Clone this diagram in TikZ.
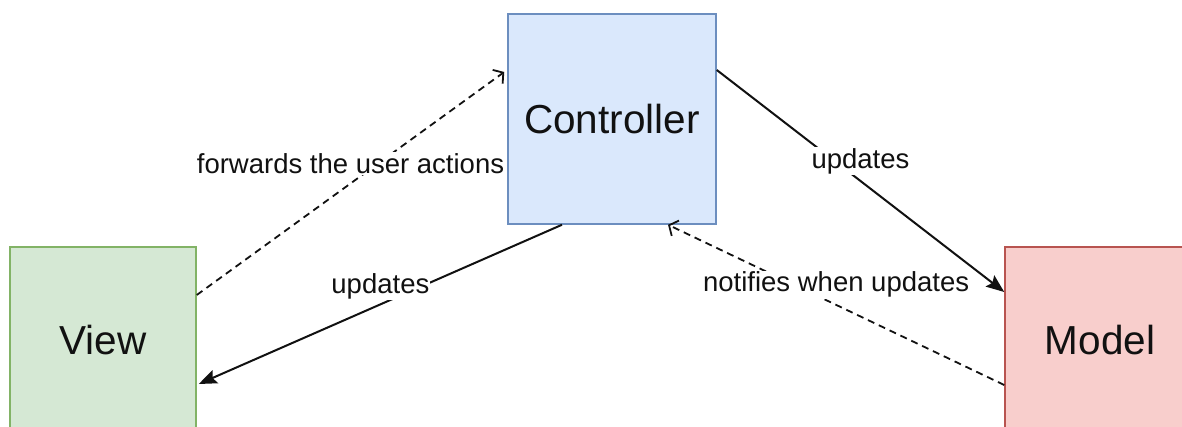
\documentclass[tikz,border=0pt]{standalone}
\usepackage{fontspec}
\setmainfont{Liberation Sans}
\usepackage{tikz}
\usetikzlibrary{arrows.meta,calc,positioning}

\definecolor{ctrlfill}{HTML}{DAE8FC}
\definecolor{ctrldraw}{HTML}{6C8EBF}
\definecolor{viewfill}{HTML}{D5E8D4}
\definecolor{viewdraw}{HTML}{82B366}
\definecolor{modelfill}{HTML}{F8CECC}
\definecolor{modeldraw}{HTML}{B85450}
\definecolor{ink}{HTML}{111111}

\begin{document}
\begin{tikzpicture}[x=1pt,y=-1pt,
  box/.style={draw,line width=1.5pt,minimum width=186pt,minimum height=186pt,
    text=ink,font=\fontsize{40.5}{48}\selectfont},
  lbl/.style={fill=white,inner sep=1pt,text=ink,yshift=20pt,
    font=\fontsize{27.5}{32}\selectfont},
  upd/.style={line width=2pt,draw=ink,-{Stealth[length=18pt,width=14pt,inset=3pt]}},
  ntf/.style={line width=1.8pt,draw=ink,dash pattern=on 7pt off 5pt,
    -{Straight Barb[length=7pt,width=17pt]}}]
  \useasboundingbox (0,0) rectangle (1182,427);
  \clip (0,0) rectangle (1182,427);
  % the three parts
  \node[box,fill=ctrlfill,draw=ctrldraw,minimum width=208pt,minimum height=210pt] (ctrl) at (612,119) {Controller};
  \node[box,fill=viewfill,draw=viewdraw] (view) at (103,340) {View};
  \node[box,fill=modelfill,draw=modeldraw,minimum width=190pt] (model) at (1100,340) {Model};
  % connections
  \draw[ntf] ([yshift=45pt]view.east) -- node[lbl] {forwards the user actions} ([yshift=47pt,xshift=-3pt]ctrl.west);
  \draw[upd] ([xshift=-50pt]ctrl.south) -- node[lbl,yshift=-2pt] {updates} ([yshift=-44pt,xshift=2pt]view.east);
  \draw[upd] ([yshift=49pt]ctrl.east) -- node[lbl] {updates} ([yshift=48pt]model.west);
  \draw[ntf] ([yshift=-45pt]model.west) -- node[lbl] {notifies when updates} ([xshift=56pt]ctrl.south);
\end{tikzpicture}
\end{document}
